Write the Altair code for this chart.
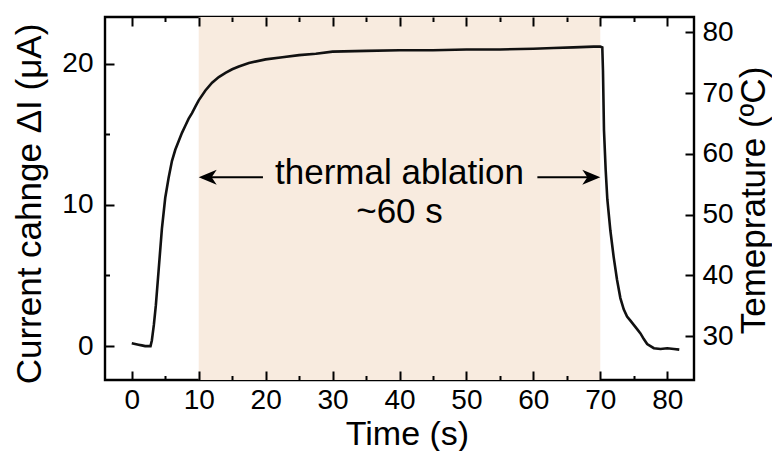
import altair as alt
import pandas as pd

# ---------------- data ----------------
time_s = [0.0, 0.5, 1.0, 1.5, 2.0, 2.5, 2.8, 3.0, 3.3, 3.6, 4.0, 4.5, 5.0, 5.5, 6.0, 6.5,
          7.0, 7.5, 8.0, 8.5, 9.0, 9.5, 10.0, 11.0, 12.0, 13.0, 14.0, 15.0, 16.0, 17.5,
          20.0, 22.5, 25.0, 27.5, 30.0, 35.0, 40.0, 45.0, 50.0, 55.0, 60.0, 63.0, 66.0,
          69.0, 70.0, 70.3, 70.4, 70.55, 70.8, 71.05, 71.5, 72.0, 72.5, 73.0, 73.5, 74.0,
          74.5, 75.0, 75.5, 76.0, 76.5, 77.0, 77.5, 78.0, 79.0, 80.0, 81.0, 81.8]
current_uA = [0.2, 0.15, 0.1, 0.05, 0.0, 0.0, 0.0, 0.4, 1.5, 2.9, 5.3, 8.3, 10.5, 11.9, 13.1, 13.9,
              14.5, 15.1, 15.6, 16.1, 16.5, 16.95, 17.4, 18.1, 18.65, 19.05, 19.35, 19.6, 19.8, 20.05,
              20.3, 20.45, 20.6, 20.7, 20.85, 20.9, 20.95, 20.95, 21.0, 21.0, 21.05, 21.1, 21.15,
              21.2, 21.2, 21.15, 19.5, 15.3, 12.5, 10.4, 8.2, 6.3, 4.7, 3.4, 2.6, 2.1,
              1.8, 1.5, 1.2, 0.9, 0.5, 0.15, 0.0, -0.15, -0.2, -0.15, -0.2, -0.25]

band_start = [10]
band_end = [70]

arrow_y = [11.95, 11.95]
rule_x_start = [10.5, 60.6]
rule_x_end = [19.6, 69.5]
head_x = [10, 70]
head_shape = ["M0,0 L1,-0.42 L0.72,0 L1,0.42 Z", "M0,0 L-1,-0.42 L-0.72,0 L-1,0.42 Z"]

note_text = ["thermal ablation", "~60 s"]
note_x = [40, 40]
note_y = [11.48, 8.72]

x_major = [0, 10, 20, 30, 40, 50, 60, 70, 80]
x_minor = [5, 15, 25, 35, 45, 55, 65, 75]
y_major = [0, 10, 20]
y_minor = [5, 15]
temp_ticks = [30, 40, 50, 60, 70, 80]

x_domain = [-4, 84]
y_domain = [-2.4, 23.3]
t_domain = [22.8, 82.5]

# ---------------- layout / style ----------------
W, H = 589, 363
MAJ, MIN = 9, 4.5          # inward tick lengths in pixels
FONT = "Liberation Sans"

xs = alt.Scale(domain=x_domain, nice=False, zero=False)
ys = alt.Scale(domain=y_domain, nice=False, zero=False)
ts = alt.Scale(domain=t_domain, nice=False, zero=False)

line_df = pd.DataFrame({"t": time_s, "I": current_uA})
band_df = pd.DataFrame({"s": band_start, "e": band_end})
rule_df = pd.DataFrame({"x1": rule_x_start, "x2": rule_x_end, "y": arrow_y})
head_df = pd.DataFrame({"x": head_x, "y": arrow_y, "shape": head_shape})
note_df = pd.DataFrame({"x": note_x, "y": note_y, "label": note_text})
frame_df = pd.DataFrame({"x": [0, 80], "y": [0, 20], "T": [30, 80]})


def axis(**kw):
    base = dict(domain=False, grid=False, ticks=False, labelColor="black",
                labelFont=FONT, labelFontSize=28, titleFont=FONT, titleFontSize=35,
                titleFontWeight="normal", titleColor="black")
    base.update(kw)
    return alt.Axis(**base)


def tick_axis(orient, values, dash):
    # inward ticks drawn as dashed grid lines: a short dash at the frame edge(s)
    return alt.Axis(orient=orient, values=values, domain=False, ticks=False, labels=False,
                    title=None, grid=True, gridColor="black", gridWidth=2,
                    gridOpacity=1, gridDash=dash, zindex=1)


x_main = axis(orient="bottom", values=x_major, labelPadding=28,
              labelBaseline="alphabetic", title="Time (s)", titleX=302, titleY=64,
              titleBaseline="alphabetic", titleFontSize=34)
y_main = axis(orient="left", values=y_major, labelPadding=12,
              title="Current cahnge ΔI (μA)", titleAngle=270, titleX=-65, titleY=186.5,
              titleBaseline="alphabetic")
t_main = axis(orient="right", values=temp_ticks, labelPadding=8,
              title="Temeprature (ºC)", titleAngle=270, titleX=70, titleY=183,
              titleBaseline="alphabetic")

band = alt.Chart(band_df).mark_rect(color="#F8EBDF").encode(
    x=alt.X("s:Q", scale=xs, axis=None), x2="e:Q")

line = alt.Chart(line_df).mark_line(color="#111111", strokeWidth=2.6).encode(
    x=alt.X("t:Q", scale=xs, axis=None), y=alt.Y("I:Q", scale=ys, axis=None))

rules = alt.Chart(rule_df).mark_rule(color="black", strokeWidth=2).encode(
    x=alt.X("x1:Q", scale=xs, axis=None), x2="x2:Q",
    y=alt.Y("y:Q", scale=ys, axis=None))

heads = alt.Chart(head_df).mark_point(filled=True, size=1296, opacity=1, color="black",
                                      strokeWidth=0).encode(
    x=alt.X("x:Q", scale=xs, axis=None), y=alt.Y("y:Q", scale=ys, axis=None),
    shape=alt.Shape("shape:N", scale=None))

notes = alt.Chart(note_df).mark_text(font=FONT, fontSize=35, baseline="alphabetic",
                                     align="center", color="black").encode(
    x=alt.X("x:Q", scale=xs, axis=None), y=alt.Y("y:Q", scale=ys, axis=None),
    text="label:N")

# axis labels / titles carried by invisible layers (one per y scale)
labels_cur = alt.Chart(frame_df).mark_point(opacity=0).encode(
    x=alt.X("x:Q", scale=xs, axis=x_main), y=alt.Y("y:Q", scale=ys, axis=y_main))
labels_temp = alt.Chart(frame_df).mark_point(opacity=0).encode(
    y=alt.Y("T:Q", scale=ts, axis=t_main))

# inward ticks: x ticks on bottom and top edges, y ticks on the left, temperature ticks on the right
x_major_ticks = alt.Chart(frame_df).mark_point(opacity=0).encode(
    x=alt.X("x:Q", scale=xs, axis=tick_axis("bottom", x_major, [MAJ, H - 2 * MAJ, MAJ, 2 * H])))
x_minor_ticks = alt.Chart(frame_df).mark_point(opacity=0).encode(
    x=alt.X("x:Q", scale=xs, axis=tick_axis("bottom", x_minor, [MIN, H - 2 * MIN, MIN, 2 * H])))
y_major_ticks = alt.Chart(frame_df).mark_point(opacity=0).encode(
    y=alt.Y("y:Q", scale=ys, axis=tick_axis("left", y_major, [MAJ, 2 * W])))
y_minor_ticks = alt.Chart(frame_df).mark_point(opacity=0).encode(
    y=alt.Y("y:Q", scale=ys, axis=tick_axis("left", y_minor, [MIN, 2 * W])))
t_ticks = alt.Chart(frame_df).mark_point(opacity=0).encode(
    y=alt.Y("T:Q", scale=ts, axis=tick_axis("right", temp_ticks, [MAJ, 2 * W])))

chart = alt.layer(band, line, rules, heads, notes, labels_cur, labels_temp,
                  x_major_ticks, x_minor_ticks, y_major_ticks, y_minor_ticks,
                  t_ticks).resolve_scale(
    y="independent").resolve_axis(x="independent", y="independent").properties(
    width=W, height=H, background="white",
    autosize=alt.AutoSizeParams(type="none"),
    padding={"left": 97, "top": 9, "right": 78, "bottom": 71},
).configure_view(stroke="black", strokeWidth=2.4)

chart.save("out.html", embed_options={"renderer": "svg", "actions": False})
